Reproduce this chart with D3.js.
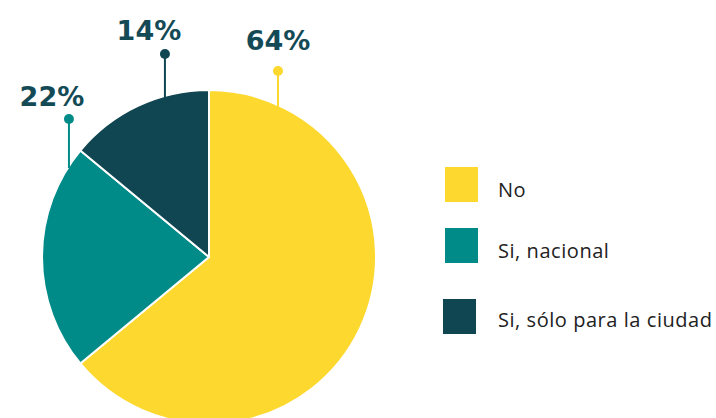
<!DOCTYPE html>
<html>
<head>
<meta charset="utf-8">
<script src="https://cdn.jsdelivr.net/npm/d3@7"></script>
<style>
body { margin:0; background:#fff; }
</style>
</head>
<body>
<div class="chart"></div>
<script>
// data
var categories = ["No", "Si, nacional", "Si, sólo para la ciudad"];
var values = [64, 22, 14];
var labels = ["64%", "22%", "14%"];
var colors = ["#fdd82e", "#008b89", "#0f4651"];

const width = 716;
const height = 418;
const cx = 209, cy = 257, radius = 167;

// where each leader line meets the pie (degrees clockwise from top), dot height, text spot
var leaders = [
    {angle: 24.4, dotY: 71, textDx: 0, textY: 50},
    {angle: 303, dotY: 119, textDx: -17, textY: 106},
    {angle: 344.7, dotY: 54, textDx: -16, textY: 40}
];

var svg = d3.select(".chart")
    .append("svg")
    .attr("width", width)
    .attr("height", height);

var pie = d3.pie().sort(null).value(d => d);
var arcs = pie(values);

var arc = d3.arc().innerRadius(0).outerRadius(radius);

var g = svg.append("g").attr("transform", "translate(" + cx + "," + cy + ")");

g.selectAll("path")
    .data(arcs)
    .enter()
    .append("path")
    .attr("d", arc)
    .attr("fill", (d, i) => colors[i])
    .attr("stroke", "#fff")
    .attr("stroke-width", 2)
    .attr("stroke-linejoin", "round");

// leader lines + labels
leaders.forEach(function(l, i) {
    var a = l.angle * Math.PI / 180;
    var x = cx + radius * Math.sin(a);
    var y = cy - radius * Math.cos(a);
    var col = colors[i];
    svg.append("line")
        .attr("x1", x).attr("x2", x)
        .attr("y1", y + 2).attr("y2", l.dotY)
        .attr("stroke", col)
        .attr("stroke-width", 2);
    svg.append("circle")
        .attr("cx", x).attr("cy", l.dotY)
        .attr("r", 5)
        .attr("fill", col);
    svg.append("text")
        .attr("x", x + l.textDx)
        .attr("y", l.textY)
        .attr("text-anchor", "middle")
        .attr("font-family", "'DejaVu Sans', sans-serif")
        .attr("font-weight", "bold")
        .attr("font-size", "27px")
        .attr("fill", "#134a56")
        .text(labels[i]);
});

// legend
var legendY = d3.scalePoint().domain(categories).range([167, 299]);

var leg = svg.selectAll(".leg")
    .data(categories)
    .enter()
    .append("g")
    .attr("class", "leg");

leg.append("rect")
    .attr("x", (d, i) => i == 2 ? 443 : 445)
    .attr("y", d => legendY(d) + (d == categories[1] ? -5 : 0))
    .attr("width", 33)
    .attr("height", 35)
    .attr("fill", (d, i) => colors[i]);

leg.append("text")
    .attr("x", 498)
    .attr("y", (d, i) => [197, 258, 327][i])
    .attr("font-family", "'Open Sans', sans-serif")
    .attr("font-size", "20px")
    .attr("letter-spacing", "0.55px")
    .attr("fill", "#222")
    .text(d => d);
</script>
</body>
</html>
